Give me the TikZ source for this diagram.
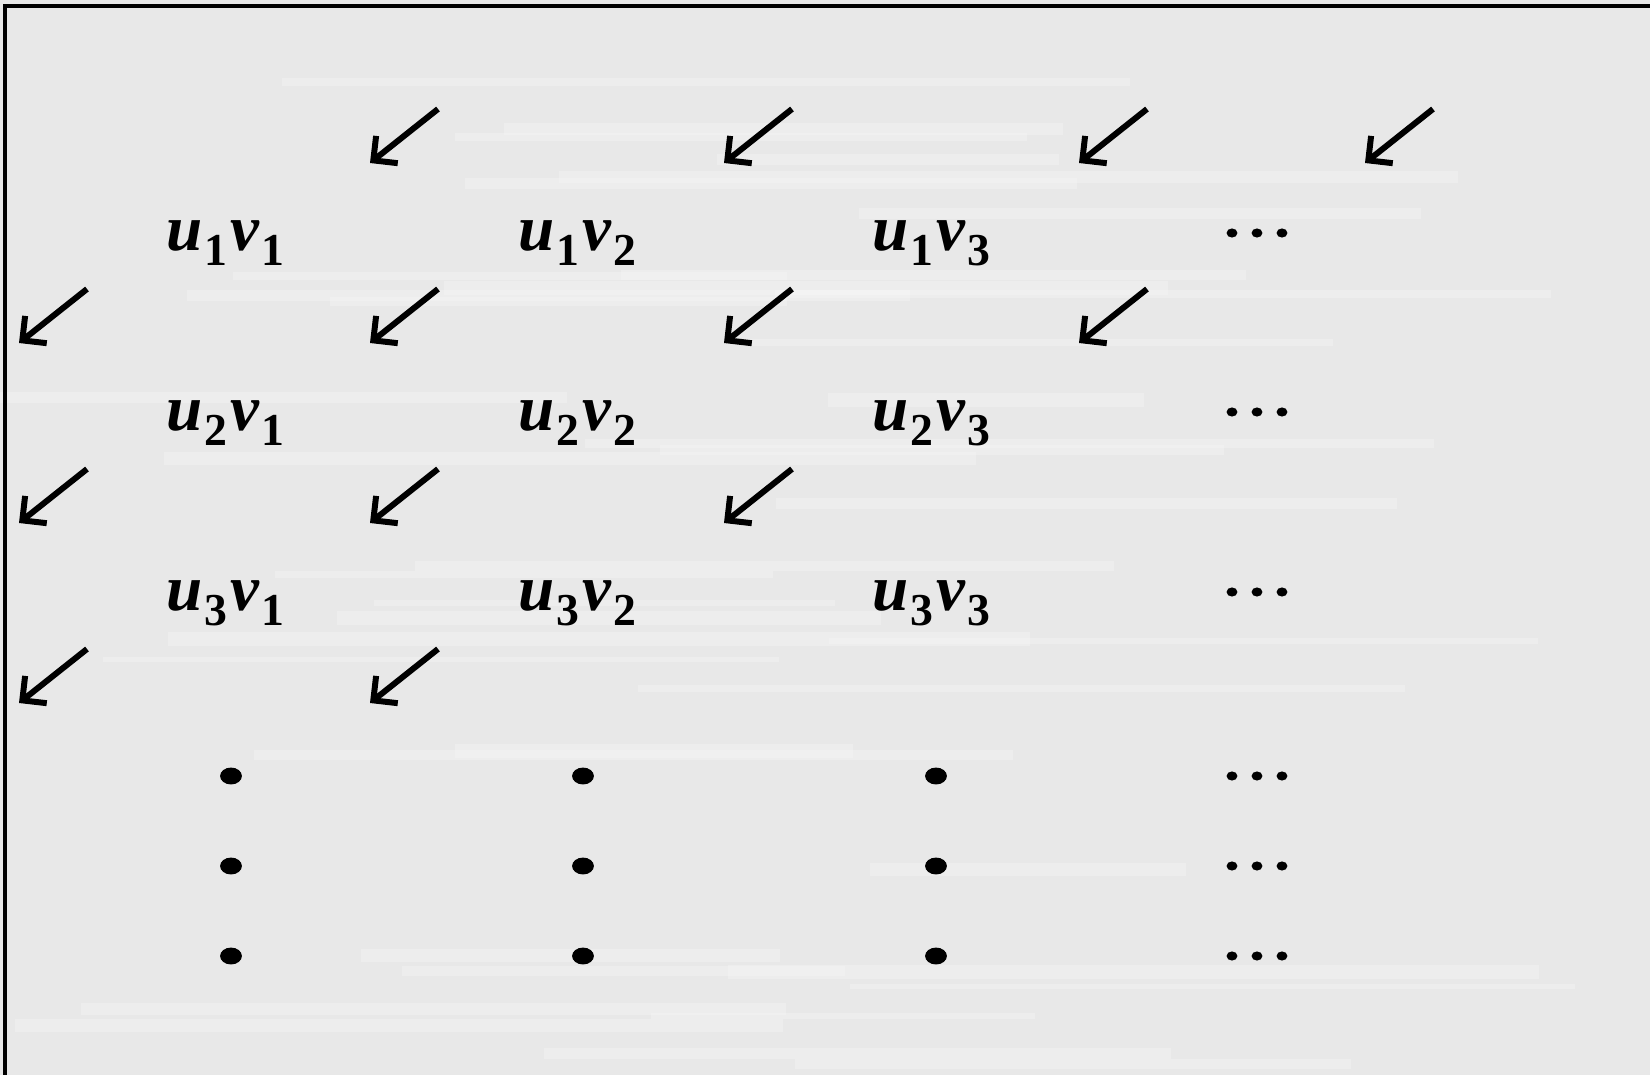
\documentclass[tikz,border=0pt]{standalone}
\usepackage{fontspec}
\setmainfont{Liberation Serif}
\usetikzlibrary{arrows.meta}
\definecolor{slidebg}{RGB}{232,232,232}
\newcommand{\uvsub}[1]{\kern0.6pt\raisebox{-4.3pt}{\fontsize{13}{13}\selectfont\bfseries\upshape #1}\kern0.8pt}
\newcommand{\uvpair}[2]{\bfseries\itshape u\uvsub{#1}v\uvsub{#2}}

\begin{document}
\begin{tikzpicture}[
    x=0.01cm, y=-0.01cm,
    pair/.style={anchor=base, inner sep=0pt, font=\fontsize{18.5}{22}\selectfont},
    diag/.style={line width=1.7pt, -{Straight Barb[angle=90:7pt]}},
    streak/.style={white, opacity=0.22},
  ]
  \fill[slidebg] (0,0) rectangle (1650,1075);
  \useasboundingbox (0,0) rectangle (1650,1075);
  % faint horizontal streaks of the backdrop
  \pgfmathsetseed{7}
  \foreach \k in {1,...,40}{
    \pgfmathsetmacro{\sy}{random(10,1060)}
    \pgfmathsetmacro{\sx}{random(0,900)}
    \pgfmathsetmacro{\sw}{random(300,900)}
    \pgfmathsetmacro{\sh}{random(5,14)}
    \fill[streak] (\sx,\sy) rectangle (\sx+\sw,\sy+\sh);
  }
  \draw[line width=1pt] (5,1075) -- (5,6) -- (1650,6);

  % products u_i v_j
  \foreach \i/\y in {1/250, 2/430, 3/610}
    \foreach \j/\x in {1/227, 2/579, 3/933}
      \node[pair] (p\i\j) at (\x,\y) {\uvpair{\i}{\j}};

  % diagonal arrows
  \foreach \x/\y in {370/163, 724/163, 1079/163, 1365/163,
                     19/343, 370/343, 724/343, 1079/343,
                     19/523, 370/523, 724/523,
                     19/703, 370/703}
    \draw[diag] (\x+68,\y-54) -- (\x,\y);

  % vertical continuation
  \foreach \x in {231, 583, 936}
    \foreach \y in {776, 866, 956}
      \fill (\x,\y) ellipse (3.1pt and 2.4pt);

  % horizontal continuation
  \foreach \y in {233, 412, 592, 776, 866, 956}
    \foreach \x in {1232, 1257, 1282}
      \fill (\x,\y) ellipse (1.55pt and 1.3pt);
\end{tikzpicture}
\end{document}
